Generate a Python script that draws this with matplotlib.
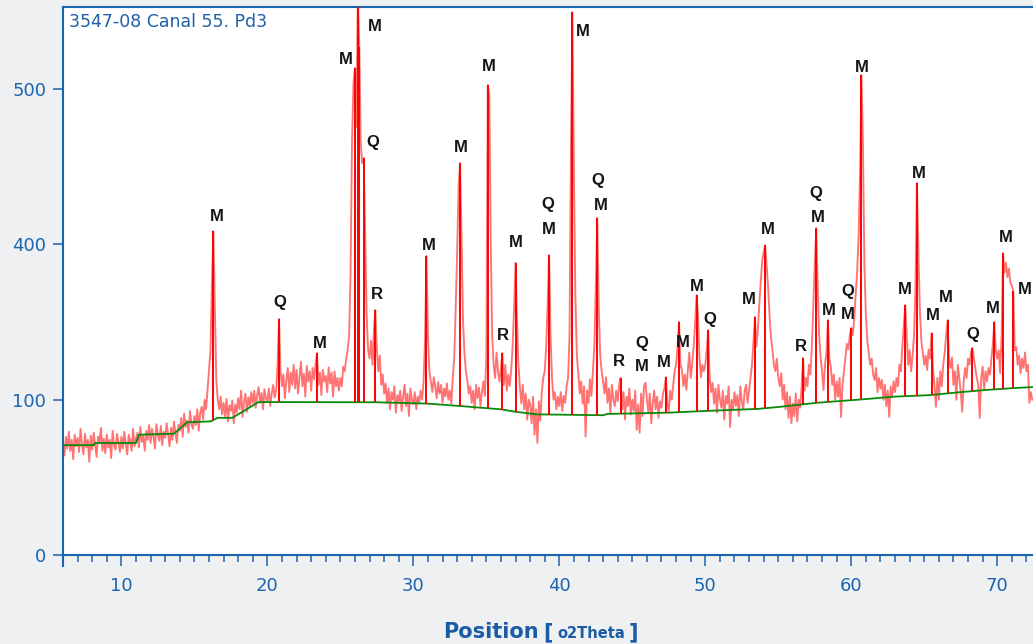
import numpy as np
import matplotlib.pyplot as plt
from matplotlib.ticker import MultipleLocator
from matplotlib.offsetbox import TextArea, HPacker, AnchoredOffsetbox

# XRD scan, counts every 0.1 deg 2theta, one list per 10 deg block
theta_start = 6.0
theta_step = 0.1

c06 = [52, 41, 58, 47, 63, 45, 55, 38, 60, 49,
       57, 44, 66, 50, 42, 61, 48, 55, 36, 59,
       46, 62, 51, 40, 58, 53, 67, 45, 56, 43,
       60, 48, 55, 39, 64, 50, 46, 61, 53, 44]

c10 = [58, 47, 63, 51, 42, 60, 54, 45, 66, 49,
       56, 62, 48, 68, 53, 59, 45, 64, 55, 70,
       52, 66, 58, 47, 71, 60, 54, 69, 50, 63,
       57, 72, 61, 49, 67, 55, 74, 62, 52, 70,
       64, 78, 58, 83, 68, 75, 62, 86, 71, 66,
       80, 70, 88, 64, 84, 91, 76, 100, 88, 113,
       140, 172, 300, 435, 260, 128, 100, 88, 104, 82,
       96, 80, 101, 74, 93, 86, 99, 72, 94, 84,
       102, 88, 112, 79, 97, 108, 85, 103, 92, 110,
       95, 112, 90, 106, 117, 96, 109, 88, 114, 101]

c20 = [98, 115, 92, 108, 120, 103, 112, 150, 231, 140,
       118, 135, 102, 127, 145, 110, 138, 120, 150, 115,
       142, 108, 130, 155, 118, 136, 104, 148, 125, 140,
       112, 145, 128, 150, 169, 120, 138, 106, 142, 125,
       133, 110, 146, 122, 138, 104, 140, 118, 130, 112,
       130, 118, 147, 140, 160, 174, 200, 330, 714, 924,
       983, 760, 1300, 1070, 700, 637, 653, 420, 240, 175,
       160, 190, 150, 210, 249, 175, 140, 165, 120, 135,
       108, 122, 96, 115, 88, 110, 100, 118, 84, 106,
       98, 112, 86, 104, 120, 92, 108, 80, 115, 100]

c30 = [94, 110, 88, 104, 96, 112, 100, 125, 190, 371,
       200, 140, 125, 110, 131, 118, 102, 124, 108, 120,
       96, 115, 104, 122, 100, 112, 95, 130, 160, 250,
       380, 560, 637, 420, 230, 170, 140, 125, 108, 118,
       96, 112, 88, 120, 102, 116, 92, 110, 125, 105,
       160, 916, 880, 420, 200, 150, 130, 170, 140, 125,
       145, 169, 120, 150, 112, 135, 118, 140, 180, 250,
       354, 230, 150, 117, 95, 120, 88, 108, 76, 100,
       95, 72, 104, 60, 88, 52, 98, 75, 110, 130,
       140, 180, 260, 373, 200, 130, 100, 110, 88, 104]

c40 = [92, 110, 86, 105, 96, 118, 130, 200, 704, 1222,
       600, 280, 165, 137, 108, 125, 95, 118, 58, 112,
       96, 128, 105, 140, 180, 300, 471, 260, 165, 140,
       125, 108, 131, 96, 115, 84, 120, 100, 92, 112,
       98, 120, 130, 88, 110, 76, 104, 92, 115, 82,
       100, 86, 112, 65, 94, 62, 108, 80, 118, 123,
       100, 84, 108, 72, 96, 112, 88, 104, 78, 98,
       90, 108, 115, 131, 96, 86, 112, 100, 120, 140,
       150, 180, 225, 150, 142, 118, 135, 113, 140, 170,
       130, 150, 180, 220, 280, 240, 162, 131, 150, 140]

c50 = [150, 175, 210, 130, 110, 123, 95, 115, 84, 120,
       100, 90, 112, 76, 105, 95, 118, 68, 100, 88,
       110, 92, 106, 80, 118, 98, 88, 112, 120, 96,
       112, 130, 150, 190, 235, 180, 210, 260, 310, 360,
       380, 398, 350, 300, 240, 195, 175, 150, 140, 160,
       131, 118, 137, 100, 120, 88, 110, 78, 104, 72,
       95, 80, 108, 74, 100, 90, 118, 161, 112, 130,
       118, 150, 135, 180, 260, 350, 443, 300, 200, 162,
       140, 113, 150, 170, 229, 160, 147, 120, 135, 100,
       125, 104, 130, 79, 120, 140, 160, 185, 175, 200]

c60 = [214, 200, 230, 280, 330, 420, 600, 955, 700, 350,
       240, 190, 170, 150, 160, 135, 127, 145, 110, 130,
       115, 127, 100, 120, 92, 112, 79, 118, 104, 125,
       110, 130, 118, 150, 140, 180, 220, 259, 200, 150,
       174, 140, 165, 200, 300, 574, 380, 250, 190, 170,
       150, 165, 142, 175, 160, 204, 142, 120, 91, 130,
       100, 140, 118, 150, 170, 200, 229, 160, 145, 162,
       120, 140, 100, 150, 130, 110, 85, 125, 145, 130,
       160, 150, 170, 178, 160, 145, 130, 120, 78, 130,
       147, 113, 140, 125, 145, 135, 160, 185, 225, 174]

c70 = [160, 174, 137, 200, 378, 330, 354, 320, 340, 307,
       300, 290, 174, 179, 150, 165, 137, 160, 145, 170,
       140, 150, 96, 110, 100]

# fitted background (green)
bg_theta = [6.0, 8.1, 8.2, 11.0, 11.2, 13.6, 14.5, 16.1, 16.6, 17.6, 19.4,
            27.5, 31.0, 33.2, 36.0, 37.0, 38.5, 43.0, 43.3, 47.5, 50.0,
            53.6, 55.1, 57.6, 60.8, 63.0, 65.4, 67.5, 69.3, 71.1, 72.5]
bg_counts = [50, 50, 52, 52, 60, 61, 73, 74, 78, 78, 97,
             96.7, 95, 92, 88, 85, 82, 81, 82.5, 84, 86,
             88.5, 91, 96, 100.5, 104, 106, 110, 113, 115.5, 117]

# peak list sticks
stick_pos = [16.3, 20.8, 23.4, 26.0, 26.2, 26.3, 26.6, 27.4, 30.9, 33.2, 35.1,
             36.1, 37.0, 39.3, 40.9, 42.6, 44.2, 47.3, 48.2, 49.4, 50.2, 53.4,
             54.1, 56.7, 57.6, 58.4, 60.0, 60.7, 63.7, 64.5, 65.5, 66.6, 68.3,
             69.8, 70.4, 71.1]
stick_top = [435, 231, 169, 983, 1300, 1070, 653, 249, 371, 637, 916,
             169, 354, 373, 1222, 471, 130, 131, 225, 280, 210, 235,
             398, 161, 443, 229, 214, 955, 259, 574, 204, 229, 178,
             225, 378, 290]

# phase labels (M, Q, R)
label_pos = [16.51, 20.82, 23.56, 25.34, 27.33, 27.19, 27.53, 31.03, 33.22, 35.14,
             36.10, 37.05, 39.18, 39.25, 41.58, 42.67, 42.81, 44.11, 45.62, 45.68,
             47.19, 48.49, 49.45, 50.34, 53.01, 54.25, 56.58, 57.60, 57.74, 58.49,
             59.73, 59.79, 60.75, 63.70, 64.66, 65.62, 66.51, 68.36, 69.73, 70.62,
             71.92]
label_cnt = [476, 265, 186, 1016, 1156, 707, 282, 398, 687, 991,
             199, 406, 508, 438, 1134, 580, 505, 156, 186, 148,
             153, 188, 298, 229, 270, 438, 181, 543, 471, 247,
             287, 239, 987, 293, 602, 237, 274, 201, 251, 417,
             293]
label_txt = ['M', 'Q', 'M', 'M', 'M', 'Q', 'R', 'M', 'M', 'M',
             'R', 'M', 'Q', 'M', 'M', 'Q', 'M', 'R', 'Q', 'M',
             'M', 'M', 'M', 'Q', 'M', 'M', 'R', 'Q', 'M', 'M',
             'Q', 'M', 'M', 'M', 'M', 'M', 'M', 'Q', 'M', 'M',
             'M']

counts = np.array(c06 + c10 + c20 + c30 + c40 + c50 + c60 + c70, dtype=float)
theta = theta_start + theta_step * np.arange(len(counts))

blue = '#1a64b0'
W, H = 1033, 644

fig = plt.figure(figsize=(W / 100, H / 100), dpi=100, facecolor='#eff0f2')
ax = fig.add_axes([63 / W, 89 / H, 970 / W, 548 / H])
ax.set_facecolor('white')
ax.set_yscale('function', functions=(lambda v: np.sqrt(np.clip(v, 0, None)),
                                     lambda v: np.square(v)))

ax.plot(theta, counts, color='#ff3d3d', lw=1.35, alpha=0.72, zorder=2)
ax.plot(bg_theta, bg_counts, color='#0a8a0a', lw=1.3, zorder=3)
stick_base = np.interp(stick_pos, bg_theta, bg_counts)
ax.vlines(stick_pos, stick_base, stick_top, color='#ff0000', lw=1.4, zorder=4)

for p, c, t in zip(label_pos, label_cnt, label_txt):
    ax.text(p, c, t, ha='center', va='center', fontsize=12, fontweight='bold',
            family=['Liberation Sans', 'DejaVu Sans'], color='#151515', zorder=5)

ax.set_xlim(6, 72.45)
ax.set_ylim(0, 1245)
ax.set_xticks([10, 20, 30, 40, 50, 60, 70])
ax.xaxis.set_minor_locator(MultipleLocator(1))
ax.set_yticks([0, 100, 400, 900])
ax.set_yticklabels(['0', '100', '400', '500'])

ax.tick_params(axis='x', which='major', direction='out', length=8, width=1.1,
               color=blue, labelcolor=blue, labelsize=13, pad=8)
ax.tick_params(axis='x', which='minor', direction='out', length=5, width=1.1,
               color=blue)
ax.tick_params(axis='y', which='major', direction='out', length=7, width=1.1,
               color=blue, labelcolor=blue, labelsize=13, pad=5)

for side in ['left', 'top', 'bottom']:
    ax.spines[side].set_color(blue)
    ax.spines[side].set_linewidth(1.5)
ax.spines['right'].set_visible(False)
ax.plot([0, 0], [0, -11 / 548], transform=ax.transAxes, clip_on=False,
        color=blue, lw=1.5)

ax.text(6 / 970, 1 - 6 / 548, '3547-08 Canal 55. Pd3', transform=ax.transAxes,
        ha='left', va='top', fontsize=12.5, color='#1f5fa8')

# x axis title: "Position [o2Theta]" with the unit in a smaller font
big = dict(fontsize=15, fontweight='bold', color='#1a5ca6')
small = dict(fontsize=10.5, fontweight='bold', color='#1a5ca6')
pack = HPacker(children=[TextArea('Position', textprops=big),
                         TextArea('[', textprops=big),
                         TextArea('o2Theta', textprops=small),
                         TextArea(']', textprops=big)],
               align='baseline', pad=0, sep=3)
box = AnchoredOffsetbox(loc='center', child=pack, pad=0, frameon=False,
                        bbox_to_anchor=(541 / W, 1 - 632 / H),
                        bbox_transform=fig.transFigure, borderpad=0)
fig.add_artist(box)

fig.savefig('out.png', dpi=100, facecolor=fig.get_facecolor())
